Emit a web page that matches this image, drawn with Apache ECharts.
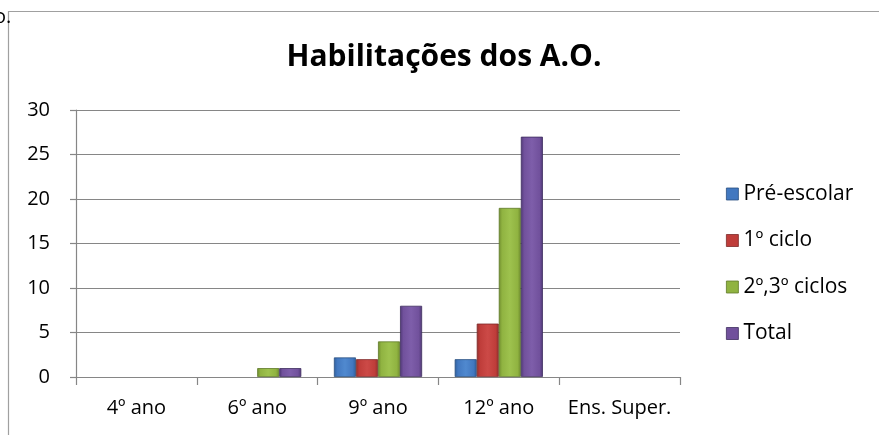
<!DOCTYPE html>
<html><head><meta charset="utf-8">
<script src="https://cdn.jsdelivr.net/npm/echarts@6/dist/echarts.min.js"></script>
<style>html,body{margin:0;padding:0;background:#fff}#c{width:879px;height:435px}</style>
</head><body><div id="c"></div>
<script>
var categories = ['4º ano', '6º ano', '9º ano', '12º ano', 'Ens. Super.'];
var preEscolar = [0, 0, 2.2, 2, 0];
var primeiroCiclo = [0, 0, 2, 6, 0];
var segTercCiclos = [0, 1, 4, 19, 0];
var total = [0, 1, 8, 27, 0];
var yTicks = [0, 5, 10, 15, 20, 25, 30];

var FONT = '"Open Sans", Lato, sans-serif';
function grad(dark, mid, light) {
  return new echarts.graphic.LinearGradient(0, 0, 1, 0, [
    {offset: 0, color: dark}, {offset: 0.15, color: mid}, {offset: 0.5, color: light},
    {offset: 0.85, color: mid}, {offset: 1, color: dark}
  ]);
}
var styles = [
  {name: 'Pré-escolar', data: preEscolar, c: grad('#2f5f9c', '#4278c0', '#5089cf'), leg: '#4278c0', b: '#2a4f80'},
  {name: '1º ciclo', data: primeiroCiclo, c: grad('#952f2c', '#bf3d3a', '#cc4a47'), leg: '#bf3d3a', b: '#7e2a28'},
  {name: '2º,3º ciclos', data: segTercCiclos, c: grad('#6f8c2e', '#90b341', '#9ec24e'), leg: '#90b341', b: '#5f7a28'},
  {name: 'Total', data: total, c: grad('#4f3875', '#71519c', '#7e5eaa'), leg: '#71519c', b: '#3f2d60'}
];
var series = styles.map(function (s) {
  return {
    name: s.name, type: 'bar', barGap: '0%', barCategoryGap: '27%',
    data: s.data.map(function (v) { return v === 0 ? null : v; }),
    itemStyle: {color: s.c, borderColor: s.b, borderWidth: 0.8},
    emphasis: {disabled: true}
  };
});
var chart = echarts.init(document.getElementById('c'));
chart.setOption({
  animation: false,
  color: styles.map(function (s) { return s.leg; }),
  grid: {left: 76, right: 199, top: 110, bottom: 58, containLabel: false},
  graphic: [
    {type: 'rect', shape: {x: 8.5, y: 11.5, width: 880, height: 440}, style: {fill: 'none', stroke: '#a0a0a0', lineWidth: 1.2}},
    {type: 'text', x: -6, y: 7, style: {text: 'o.', font: '20px ' + FONT, fill: '#000'}},
    {type: 'text', x: 444, y: 42, style: {text: 'Habilitações dos A.O.', font: 'bold 30px ' + FONT, fill: '#000', textAlign: 'center'}}
  ],
  legend: {
    orient: 'vertical', left: 721, top: 178, icon: 'rect', itemWidth: 12, itemHeight: 12, itemGap: 24.5,
    textStyle: {fontFamily: FONT, fontSize: 21, color: '#000', lineHeight: 22},
    data: styles.map(function (s) { return {name: s.name, itemStyle: {color: s.leg, borderColor: s.b, borderWidth: 0.8}}; })
  },
  xAxis: {
    type: 'category', data: categories,
    axisLine: {lineStyle: {color: '#868686', width: 1.2}},
    axisTick: {show: true, alignWithLabel: false, length: 8, lineStyle: {color: '#868686', width: 1.2}},
    axisLabel: {fontFamily: FONT, fontSize: 20, color: '#000', margin: 21, interval: 0}
  },
  yAxis: {
    type: 'value', min: yTicks[0], max: yTicks[yTicks.length - 1], interval: 5,
    axisLine: {show: true, lineStyle: {color: '#868686', width: 1.2}},
    axisTick: {show: true, length: 6, lineStyle: {color: '#868686', width: 1.2}},
    axisLabel: {fontFamily: FONT, fontSize: 20, color: '#000', margin: 26},
    splitLine: {lineStyle: {color: '#868686', width: 1.2}}
  },
  series: series
});
</script></body></html>
